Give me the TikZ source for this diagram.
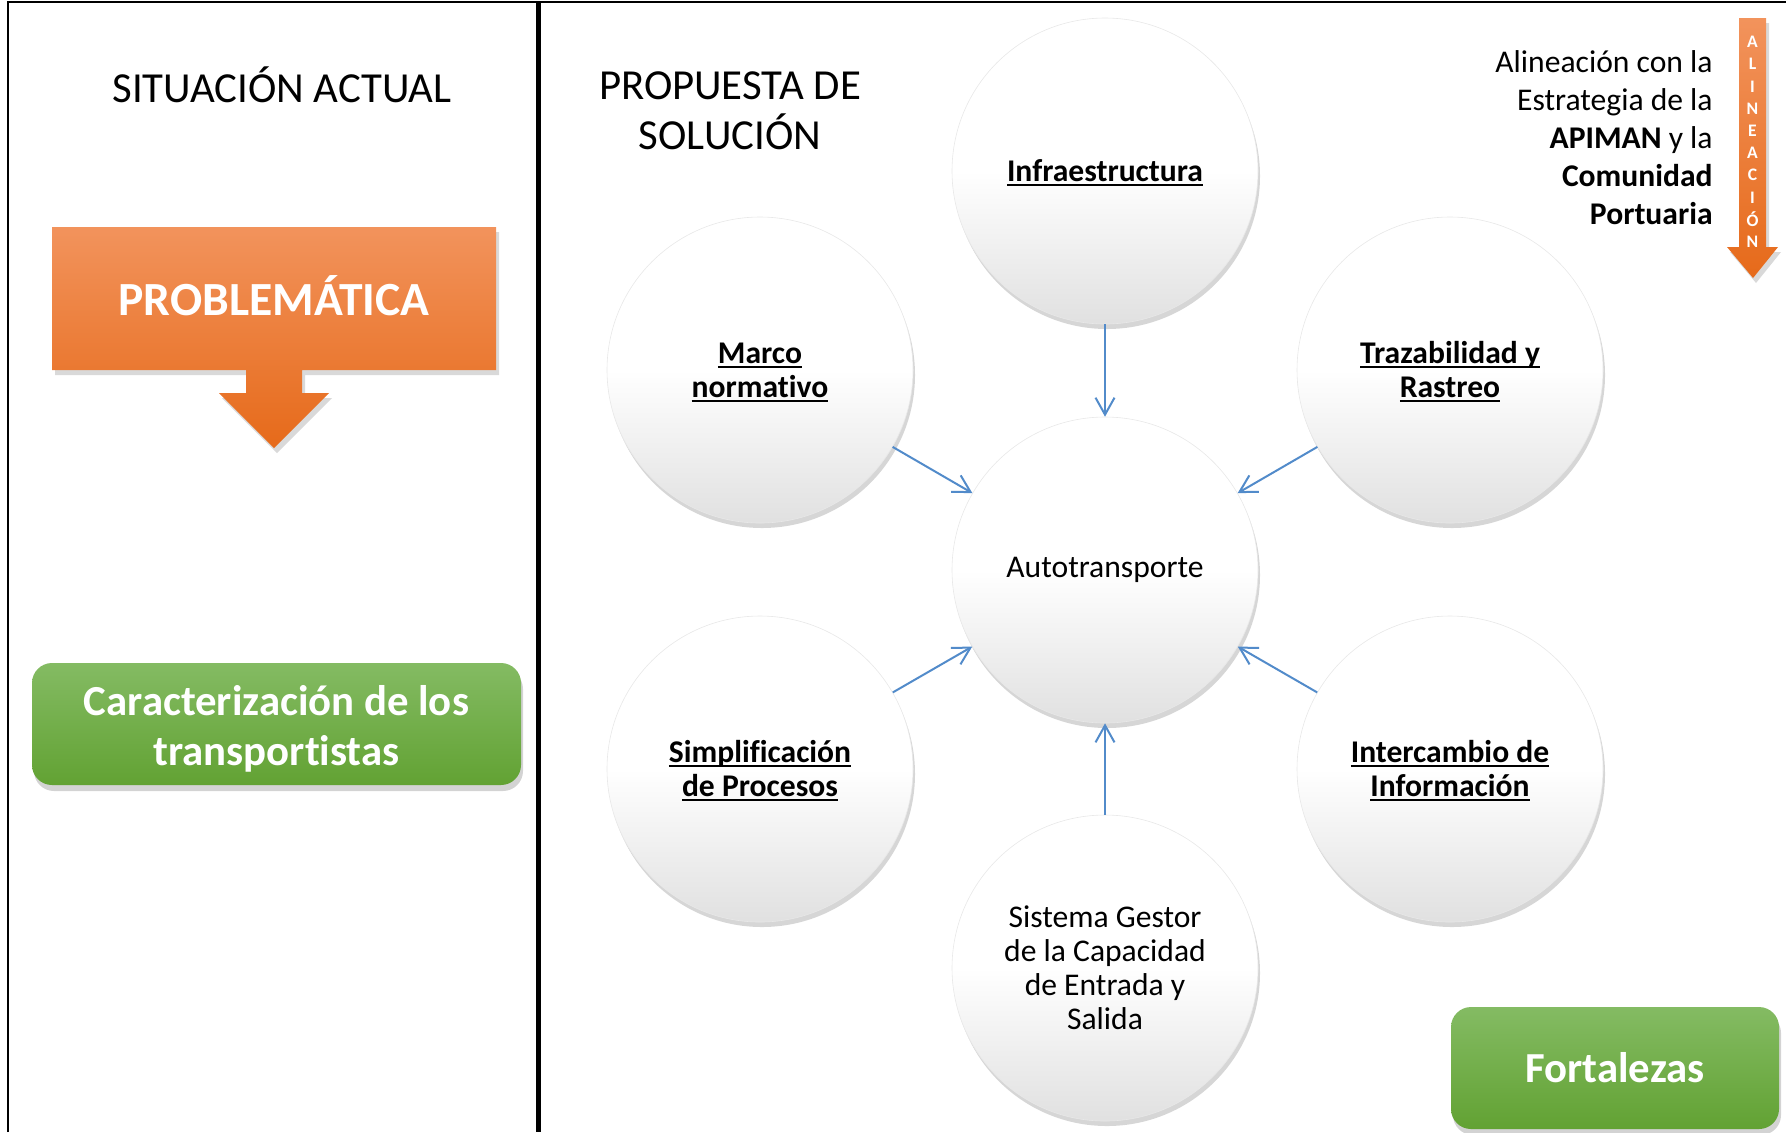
\documentclass[tikz,border=0pt]{standalone}
\usepackage{fontspec}
\setmainfont{Carlito}[Ligatures=NoCommon]
\usetikzlibrary{arrows.meta,shadows}

\definecolor{naranjaA}{RGB}{242,147,92}
\definecolor{naranjaB}{RGB}{230,106,26}
\definecolor{verdeA}{RGB}{132,187,99}
\definecolor{verdeB}{RGB}{98,162,51}
\definecolor{enlace}{RGB}{82,139,202}

% bold text with an underline at a fixed depth
\newcommand\subr[1]{\setbox0\hbox{\textbf{#1}}\rlap{\rule[-2.1pt]{\wd0}{0.9pt}}\box0}

\begin{document}
\begin{tikzpicture}[x=0.5pt,y=0.5pt,
  titulo/.style={inner sep=0pt, font=\fontsize{21.4}{25}\selectfont},
  texto/.style={inner sep=0pt, font=\fontsize{15.8}{19}\selectfont},
  bubble/.style={circle, minimum size=153pt, inner sep=0pt, align=center,
    draw=black!9, line width=0.3pt,
    top color=white, bottom color=black!12, middle color=white,
    drop shadow={shadow xshift=1pt, shadow yshift=-2.5pt, opacity=0.32},
    font=\fontsize{15.8}{17}\selectfont},
  problema/.style={top color=naranjaA, bottom color=naranjaB,
    drop shadow={shadow xshift=1.5pt, shadow yshift=-2.5pt, opacity=0.3}},
  verde/.style={rounded corners=10pt, top color=verdeA, bottom color=verdeB,
    text=white, align=center, inner sep=0pt,
    drop shadow={shadow xshift=1pt, shadow yshift=-3pt, opacity=0.35},
    font=\bfseries\fontsize{21.4}{25}\selectfont},
  link/.style={draw=enlace, line width=1pt, -{Straight Barb[length=8.5pt,width=9.5pt]}}]
\useasboundingbox (0,0) rectangle (1786,-1132);

% Frame
\draw[line width=1.4pt] (8,-1132) -- (8,-2) -- (1786,-2);
\draw[line width=2.5pt] (538,-2) -- (538,-1132);

% Left column
\node[titulo, anchor=base] (situacion) at (282,-102) {SITUACIÓN ACTUAL};

\path[problema] (52,-227) -- (496,-227) -- (496,-370) -- (302,-370) -- (302,-393)
  -- (329,-393) -- (274,-448) -- (219,-393) -- (246,-393) -- (246,-370)
  -- (52,-370) -- cycle;
\node[titulo, anchor=base, text=white, font=\bfseries\fontsize{23.8}{25}\selectfont]
  (problematica) at (274,-315) {PROBLEMÁTICA};

\node[verde, minimum width=244.5pt, minimum height=61pt] (caracterizacion)
  at (276.5,-724) {\rule{0pt}{20pt}Caracterización de los\\transportistas};

% Right column
\node[titulo, align=center] (propuesta) at (730,-110.5) {PROPUESTA DE\\SOLUCIÓN};

\path[problema] (1739,-18) -- (1766,-18) -- (1766,-247) -- (1778,-247)
  -- (1753,-278) -- (1727,-247) -- (1739,-247) -- cycle;
\foreach \l [count=\i from 0] in {A,L,I,N,E,A,C,I,Ó,N}
  \node[inner sep=0pt, text=white, font=\bfseries\fontsize{8.8}{9}\selectfont]
    (letra\i) at (1752.5,{-42-22.2*\i}) {\l};

\node[texto, align=right, anchor=east] (alineacion) at (1713,-138)
  {Alineación con la\\Estrategia de la\\\textbf{APIMAN} y la\\\textbf{Comunidad}\\\textbf{Portuaria}};

\node[bubble] (auto) at (1105,-570) {Autotransporte};
\node[bubble] (infra) at (1105,-171) {\rule{0pt}{13pt}\subr{Infraestructura}};
\node[bubble] (marco) at (760,-370) {\rule{0pt}{13pt}\subr{Marco}\\\subr{normativo}};
\node[bubble] (traza) at (1450,-370) {\rule{0pt}{13pt}\subr{Trazabilidad y}\\\subr{Rastreo}};
\node[bubble] (simpl) at (760,-769) {\rule{0pt}{13pt}\subr{Simplificación}\\\subr{de Procesos}};
\node[bubble] (inter) at (1450,-769) {\rule{0pt}{13pt}\subr{Intercambio de}\\\subr{Información}};
\node[bubble] (sistema) at (1105,-968) {Sistema Gestor\\de la Capacidad\\de Entrada y\\Salida};

\node[verde, minimum width=164pt, minimum height=61pt] (fortalezas)
  at (1615,-1068) {Fortalezas};

% Arrows into the centre
\draw[link] (infra) -- (auto);
\draw[link] (marco) -- (auto);
\draw[link] (traza) -- (auto);
\draw[link] (simpl) -- (auto);
\draw[link] (inter) -- (auto);
\draw[link] (sistema) -- (auto);

\end{tikzpicture}
\end{document}
